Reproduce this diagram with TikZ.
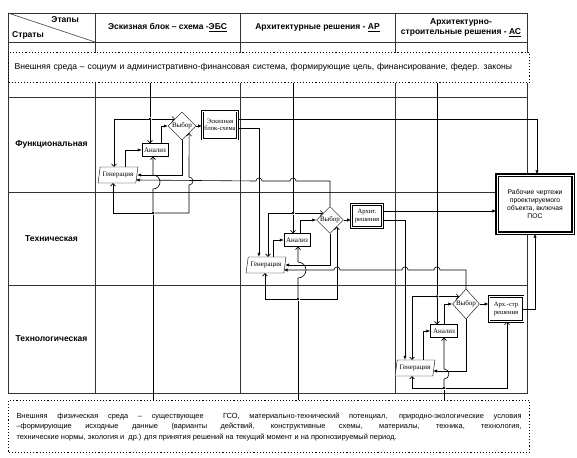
\documentclass[tikz,border=0pt]{standalone}
\usepackage{fontspec}
\setmainfont{Liberation Serif}
\setsansfont{Liberation Sans}
\usetikzlibrary{arrows.meta,shapes.geometric}
\begin{document}
\begin{tikzpicture}[x=1pt,y=-1pt,
    tbl/.style={line width=0.6pt,black!80},
    env/.style={draw,dotted,line width=1.1pt,fill=white,inner xsep=6pt,anchor=north west,font=\sffamily\fontsize{8.6}{9.5}\selectfont},
    hdr/.style={font=\sffamily\bfseries\fontsize{8.5}{10}\selectfont,align=center,inner sep=1pt},
    strata/.style={font=\sffamily\bfseries\fontsize{8.5}{10}\selectfont},
    lnk/.style={line width=0.6pt},
    fil/.style={lnk,-{Latex[length=4pt,width=3.2pt]}},
    opn/.style={lnk,-{Straight Barb[length=2.5pt,width=5pt]}},
    gen/.style={draw,trapezium,trapezium left angle=73,trapezium right angle=107,trapezium stretches=true,minimum width=40pt,minimum height=16pt,inner sep=0pt,font=\fontsize{7}{7}\selectfont,fill=white},
    ana/.style={draw,minimum width=26pt,minimum height=13pt,inner sep=0pt,font=\fontsize{7}{7}\selectfont,fill=white},
    vyb/.style={draw,diamond,minimum width=28pt,minimum height=28pt,inner sep=0pt,font=\fontsize{7}{7}\selectfont,fill=white},
    res/.style={draw,double,double distance=0.7pt,line width=0.7pt,inner sep=1pt,align=center,font=\fontsize{6.6}{7.6}\selectfont,fill=white},
    rab/.style={draw,double,double distance=0.9pt,line width=1.2pt,minimum width=76pt,minimum height=58pt,align=center,font=\sffamily\fontsize{6.8}{8.2}\selectfont,fill=white},
    dot/.style={circle,fill,inner sep=0pt,minimum size=2.6pt}
]
\useasboundingbox (0,0) rectangle (577,457);

\draw[tbl] (8,13) rectangle (527,393);
\foreach \yy in {42,97,192,285} \draw[tbl] (8,\yy) -- (527,\yy);
\foreach \xx in {95,240,395} \draw[tbl] (\xx,13) -- (\xx,393);
\draw[tbl] (8,13) -- (95,42);

\node[hdr,anchor=north east] (etapy) at (80,15) {Этапы};
\node[hdr,anchor=south west] (straty) at (11,40) {Страты};
\node[hdr] (hebs) at (167.5,27.5) {Эскизная блок – схема -\underline{ЭБС}};
\node[hdr] (har) at (317.5,27.5) {Архитектурные решения - \underline{АР}};
\node[hdr] (has) at (461,27.5) {Архитектурно-\\строительные решения - \underline{АС}};

\node[strata] (sfun) at (51.5,144) {Функциональная};
\node[strata] (steh) at (51.5,239) {Техническая};
\node[strata] (stln) at (51.5,339) {Технологическая};

\node[env,minimum width=521pt,minimum height=30pt,text width=509pt,align=left] (envtop) at (8,52)
  {Внешняя среда – социум и административно-финансовая система, формирующие цель, финансирование, федер. законы};
\node[env,minimum width=521pt,minimum height=52pt,text width=505pt,align=justify,font=\sffamily\fontsize{7.4}{10.5}\selectfont] (envbot) at (8,400)
  {Внешняя физическая среда – существующее \ ГСО, материально-технический потенциал, природно-экологические условия\linebreak
   –формирующие исходные данные (варианты действий, конструктивные схемы, материалы, техника, технология,\linebreak
   технические нормы, экология и \ др.) для принятия решений на текущий момент и на прогнозируемый период.};

\node[rab] (rab) at (535,204) {Рабочие чертежи\\проектируемого\\объекта, включая\\ПОС};

\node[gen] (gen1) at (118,175) {Генерация};
\node[ana] (an1) at (155,150) {Анализ};
\node[vyb] (vyb1) at (182,126) {Выбор};
\node[res,minimum width=35pt,minimum height=28pt] (res1) at (220,125) {Эскизная\\блок-схема};
\node[dot] (jt1) at (150,119) {};
\node[dot] (jb1) at (153,213) {};

\node[gen] (gen2) at (266,265) {Генерация};
\node[ana] (an2) at (297,240) {Анализ};
\node[vyb,minimum width=27pt,minimum height=27pt] (vyb2) at (330,220) {Выбор};
\node[res,minimum width=31pt,minimum height=23pt] (res2) at (367,216) {Архит.\\решения};
\node[dot] (jt2) at (293,213) {};
\node[dot] (jb2) at (298,299) {};

\node[gen] (gen3) at (415,368) {Генерация};
\node[ana,minimum width=27pt] (an3) at (444,331) {Анализ};
\node[vyb,minimum width=27pt,minimum height=30pt] (vyb3) at (466,304) {Выбор};
\node[res,minimum width=34pt,minimum height=25pt] (res3) at (506,309) {Арх.-стр\\решения};
\node[dot] (jt3) at (437,296.5) {};
\node[dot] (jb3) at (444,388) {};

\draw[lnk] (jt1 |- envtop.south) -- (jt1);
\draw[opn] (jt1) -- (jt1 |- an1.north);
\draw[opn] (jt1) -| ([xshift=-4pt]gen1.north);
\draw[opn] (jt1) -- (jt1 -| vyb1.north west);
\draw[fil] ([xshift=7pt]gen1.north) |- (an1.west);
\draw[fil] ([xshift=6pt]an1.north) |- (vyb1.west);
\draw[fil] (vyb1.east) -- (vyb1.east -| res1.west);
\draw[fil] (vyb1.south) |- (gen1.east);
\draw[lnk] (jb1 |- envbot.north) -- (jb1);
\draw[opn] (jb1) -- (153,189) arc[start angle=-90,end angle=90,radius=7pt] -- (jb1 |- an1.south);
\draw[opn] (jb1) -| ([xshift=-5pt]gen1.south);
\draw[opn] (jb1) -- (189,213) -- (189,185) arc[start angle=-90,end angle=90,radius=4pt] -- (vyb1.south east);

\draw[fil] ([yshift=6pt]res1.east) -| ([xshift=2pt]rab.north);
\draw[fil] ([yshift=-3pt]res1.east) -| ([xshift=-7pt]gen2.north);
\draw[fil] (vyb2.north) -- (330,181) -- (296,181) arc[start angle=0,end angle=180,radius=3pt]
  -- (262,181) arc[start angle=0,end angle=180,radius=3pt] -- ([xshift=-1.5pt,yshift=-5pt]gen1.east);

\draw[lnk] (jt2 |- envtop.south) -- (jt2);
\draw[opn] (jt2) -- (jt2 |- an2.north);
\draw[opn] (jt2) -| ([xshift=2pt]gen2.north);
\draw[opn] (jt2) -- (jt2 -| vyb2.north west);
\draw[fil] ([xshift=7pt]gen2.north) |- (an2.west);
\draw[fil] ([xshift=3pt]an2.north) |- (vyb2.west);
\draw[fil] (vyb2.east) -- (vyb2.east -| res2.west);
\draw[fil] (vyb2.south) |- (gen2.east);
\draw[lnk] (jb2 |- envbot.north) -- (jb2);
\draw[opn] (jb2) -- (298,278) arc[start angle=-90,end angle=90,radius=8pt] -- (jb2 |- an2.south);
\draw[opn] (jb2) -| ([xshift=-1pt]gen2.south);
\draw[opn] (jb2) -| (vyb2.south east);

\draw[fil] ([yshift=5pt]res2.east) -- ([yshift=5pt]res2.east -| rab.west);
\draw[fil] ([yshift=-4pt]res2.east) -| ([xshift=-10pt]gen3.north);
\draw[fil] (vyb3.north) -- (466,270) -- (440,270) arc[start angle=0,end angle=180,radius=3pt]
  -- (408,270) arc[start angle=0,end angle=180,radius=3pt]
  -- (340,270) arc[start angle=0,end angle=180,radius=3pt] -- ([xshift=-1.5pt,yshift=-5pt]gen2.east);

\draw[lnk] (jt3 |- envtop.south) -- (jt3);
\draw[opn] (jt3) -- (jt3 |- an3.north);
\draw[opn] (jt3) -| ([xshift=-3pt]gen3.north);
\draw[opn] (jt3) -- (jt3 -| vyb3.north west);
\draw[fil] ([xshift=8pt]gen3.north) |- (an3.west);
\draw[fil] (an3.north) |- (vyb3.west);
\draw[fil] (vyb3.east) -- (vyb3.east -| res3.west);
\draw[fil] (vyb3.south) |- ([xshift=-1pt,yshift=-3pt]gen3.east);
\draw[lnk] (jb3 |- envbot.north) -- (jb3);
\draw[opn] (jb3) -- (444,379) arc[start angle=-90,end angle=90,radius=5pt] -- (jb3 |- an3.south);
\draw[opn] (jb3) -| ([xshift=-3pt]gen3.south);
\draw[opn] (jb3) -| ([xshift=1pt]res3.south);
\draw[fil] (res3.east) -| (rab.south);
\end{tikzpicture}
\end{document}
